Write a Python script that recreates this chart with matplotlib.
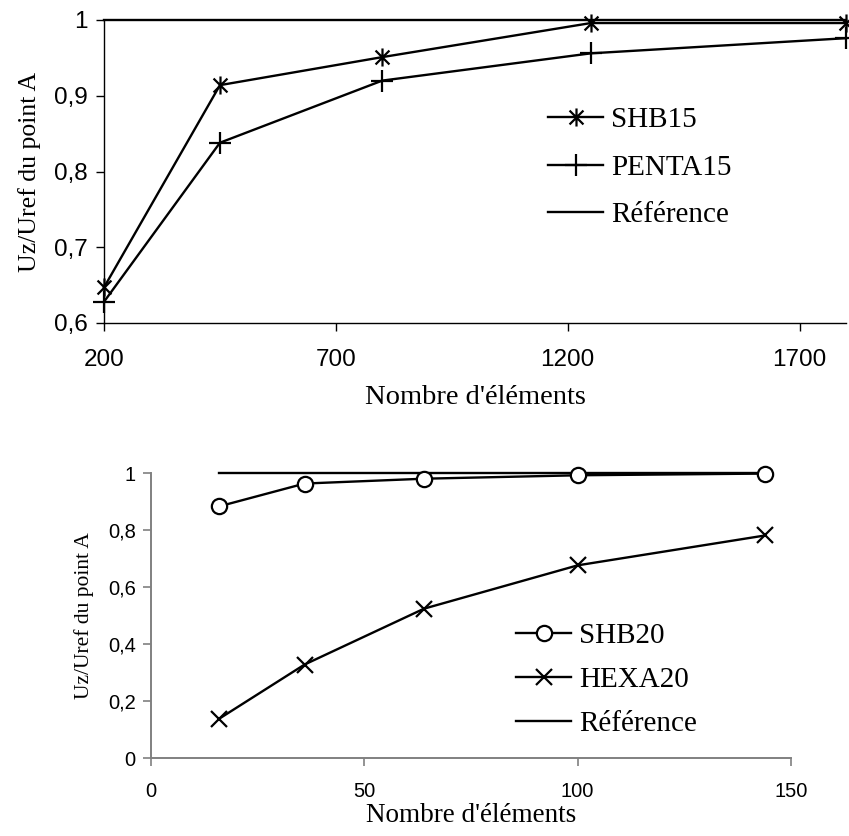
import matplotlib
matplotlib.use("Agg")
import matplotlib.pyplot as plt
from matplotlib.path import Path
from matplotlib.ticker import FuncFormatter

# ---- data: top chart ----
top_x = [200, 450, 800, 1250, 1800]
shb15 = [0.647, 0.914, 0.951, 0.996, 0.996]
penta15 = [0.628, 0.838, 0.920, 0.956, 0.976]
top_ref_x = [200, 1800]
top_ref_y = [1.0, 1.0]
top_xticks = [200, 700, 1200, 1700]
top_yticks = [0.6, 0.7, 0.8, 0.9, 1.0]

# ---- data: bottom chart ----
bot_x = [16, 36, 64, 100, 144]
shb20 = [0.883, 0.963, 0.980, 0.992, 0.998]
hexa20 = [0.138, 0.328, 0.524, 0.676, 0.781]
bot_ref_x = [16, 144]
bot_ref_y = [1.0, 1.0]
bot_xticks = [0, 50, 100, 150]
bot_yticks = [0, 0.2, 0.4, 0.6, 0.8, 1.0]

W, H = 849, 836
fig = plt.figure(figsize=(W / 100, H / 100), dpi=100)

SERIF = "Liberation Serif"
SANS = "Liberation Sans"

def rect(l, t, r, b):
    return [l / W, 1 - b / H, (r - l) / W, (b - t) / H]

def comma(v, pos):
    return ("%g" % v).replace(".", ",")

# Excel-like star marker: X plus vertical bar
star = Path([(-1, -1), (1, 1), (-1, 1), (1, -1), (0, -1.3), (0, 1.3)],
            [Path.MOVETO, Path.LINETO, Path.MOVETO, Path.LINETO, Path.MOVETO, Path.LINETO])

LW = 1.7

# ---------------- top chart ----------------
ax1 = fig.add_axes(rect(104, 20, 846, 323))
ax1.plot(top_x, shb15, color="black", lw=LW, marker=star, ms=13, mew=1.6,
         mfc="none", label="SHB15", clip_on=False)
ax1.plot(top_x, penta15, color="black", lw=LW, marker="+", ms=16, mew=1.6,
         label="PENTA15", clip_on=False)
ax1.plot(top_ref_x, top_ref_y, color="black", lw=LW, label="Référence", clip_on=False)
ax1.set_xlim(200, 1800)
ax1.set_ylim(0.6, 1.0)
ax1.set_xticks(top_xticks)
ax1.set_yticks(top_yticks)
ax1.yaxis.set_major_formatter(FuncFormatter(comma))
for s in ["top", "right"]:
    ax1.spines[s].set_visible(False)
for s in ["left", "bottom"]:
    ax1.spines[s].set_color("black")
    ax1.spines[s].set_linewidth(1.0)
ax1.tick_params(direction="out", length=6, width=1, color="black",
                labelsize=17.5, labelfontfamily=SANS)
ax1.tick_params(axis="x", pad=13)
ax1.tick_params(axis="y", pad=6)
ax1.set_xlabel("Nombre d'éléments", fontfamily=SERIF, fontsize=20.5, labelpad=9.5)
ax1.set_ylabel("Uz/Uref du point A", fontfamily=SERIF, fontsize=18.5, labelpad=9)
leg1 = ax1.legend(loc="upper left", bbox_to_anchor=(548 / W, 1 - 107 / H),
                  bbox_transform=fig.transFigure, frameon=False,
                  prop={"family": SERIF, "size": 21}, handlelength=1.9,
                  handletextpad=0.25, labelspacing=0.72, borderaxespad=0, borderpad=0)

# ---------------- bottom chart ----------------
ax2 = fig.add_axes(rect(151, 473, 791, 758))
ax2.plot(bot_x, shb20, color="black", lw=LW, marker="o", ms=11, mew=1.6,
         mfc="white", label="SHB20", clip_on=False)
ax2.plot(bot_x, hexa20, color="black", lw=LW, marker="x", ms=12, mew=1.6,
         label="HEXA20", clip_on=False)
ax2.plot(bot_ref_x, bot_ref_y, color="black", lw=LW, label="Référence",
         clip_on=False, zorder=1)
ax2.set_xlim(0, 150)
ax2.set_ylim(0, 1.0)
ax2.set_xticks(bot_xticks)
ax2.set_yticks(bot_yticks)
ax2.yaxis.set_major_formatter(FuncFormatter(comma))
for s in ["top", "right"]:
    ax2.spines[s].set_visible(False)
for s in ["left", "bottom"]:
    ax2.spines[s].set_color("#808080")
    ax2.spines[s].set_linewidth(1.4)
ax2.tick_params(direction="out", length=6, width=1.2, color="#808080",
                labelsize=14.5, labelfontfamily=SANS)
ax2.tick_params(axis="x", pad=11)
ax2.tick_params(axis="y", pad=5)
ax2.set_xlabel("Nombre d'éléments", fontfamily=SERIF, fontsize=19.5, labelpad=2)
ax2.set_ylabel("Uz/Uref du point A", fontfamily=SERIF, fontsize=15.5, labelpad=10)
leg2 = ax2.legend(loc="upper left", bbox_to_anchor=(516 / W, 1 - 623 / H),
                  bbox_transform=fig.transFigure, frameon=False,
                  prop={"family": SERIF, "size": 21}, handlelength=1.9,
                  handletextpad=0.25, labelspacing=0.6, borderaxespad=0, borderpad=0)

fig.savefig("out.png", dpi=100)
